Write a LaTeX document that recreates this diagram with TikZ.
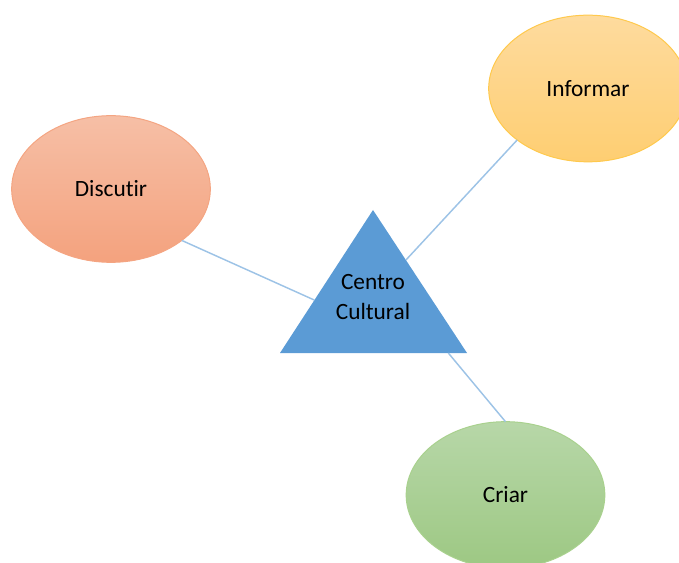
\documentclass[tikz,border=0pt]{standalone}
\usepackage{fontspec}
\setmainfont{Carlito}[Ligatures=NoCommon]
\usetikzlibrary{shapes.geometric, calc}
\definecolor{discTop}{HTML}{F6BFA6}
\definecolor{discBot}{HTML}{F4A27E}
\definecolor{discLine}{HTML}{F4A582}
\definecolor{infoTop}{HTML}{FEDB9E}
\definecolor{infoBot}{HTML}{FECE72}
\definecolor{infoLine}{HTML}{FFC94D}
\definecolor{criaTop}{HTML}{B7D7A8}
\definecolor{criaBot}{HTML}{9DC883}
\definecolor{criaLine}{HTML}{A9D18E}
\definecolor{centroBlue}{HTML}{5B9BD5}
\definecolor{linkBlue}{HTML}{9DC3E6}
\tikzset{
    idea/.style={ellipse, minimum width=149pt, minimum height=110pt, outer sep=0pt, line width=0.75pt, font=\fontsize{17.5}{21}\selectfont},
    link/.style={draw=linkBlue, line width=1.1pt},
}

\begin{document}
\begin{tikzpicture}[x=0.75pt, y=-0.75pt]
    \useasboundingbox (0,0) rectangle (679,563);

    % triangle
    \coordinate (tA) at (373,210);
    \coordinate (tL) at (280,353);
    \coordinate (tR) at (467,353);
    \fill[centroBlue] (tA) -- (tL) -- (tR) -- cycle;
    \node[align=center, font=\fontsize{17.5}{22.5}\selectfont] (cc) at (373,297) {Centro\\Cultural};

    \node[idea, draw=discLine, top color=discTop, bottom color=discBot] (dis) at (111,189) {Discutir};
    \node[idea, draw=infoLine, top color=infoTop, bottom color=infoBot] (inf) at (588,88.5) {Informar};
    \node[idea, draw=criaLine, top color=criaTop, bottom color=criaBot] (cri) at (505.5,495) {Criar};

    \coordinate (tdis) at ($(tA)!0.63!(tL)$);
    \coordinate (tinf) at ($(tA)!0.35!(tR)$);
    \coordinate (tcri) at ($(tL)!0.9!(tR)$);
    \draw[link] (dis.-36) -- (tdis);
    \draw[link] (inf.-144) -- (tinf);
    \draw[link] (cri.90) -- (tcri);
\end{tikzpicture}
\end{document}
